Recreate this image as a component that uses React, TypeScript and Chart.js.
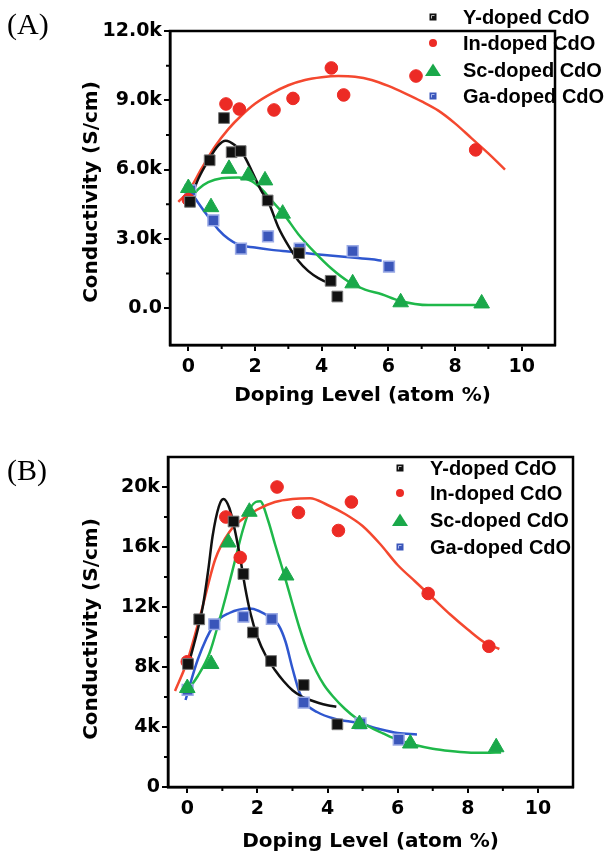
import React, { useEffect, useRef } from 'react';
import { Chart, registerables } from 'chart.js';

Chart.register(...registerables);

const SERIES_NAMES = ['Y-doped CdO', 'In-doped CdO', 'Sc-doped CdO', 'Ga-doped CdO'];
const AXIS_X_TITLE = 'Doping Level (atom %)';
const AXIS_Y_TITLE = 'Conductivity (S/cm)';

// ---------- Panel A data ----------
const A_Y_PTS: [number, number][] = [[0.05, 4600], [0.64, 6400], [1.07, 8230], [1.3, 6750], [1.57, 6800], [2.38, 4660], [3.32, 2380], [4.27, 1180], [4.47, 500]];
const A_Y_FIT: [number, number][] = [[0, 4500], [0.3, 5600], [0.6, 6400], [0.9, 7050], [1.12, 7250], [1.4, 7050], [1.65, 6650], [1.9, 5950], [2.2, 5050], [2.4, 4600], [2.7, 3500], [3.0, 2700], [3.3, 2050], [3.6, 1600], [3.9, 1300], [4.2, 1100], [4.42, 1050]];
const A_IN_PTS: [number, number][] = [[0, 4700], [1.13, 8840], [1.53, 8620], [2.57, 8580], [3.14, 9080], [4.29, 10400], [4.66, 9230], [6.83, 10050], [8.62, 6850]];
const A_IN_FIT: [number, number][] = [[-0.3, 4600], [0, 5050], [0.4, 6050], [0.8, 7000], [1.2, 7750], [1.6, 8350], [2, 8850], [2.5, 9300], [3, 9650], [3.5, 9880], [4, 10000], [4.5, 10050], [5, 10020], [5.5, 9880], [6, 9620], [6.5, 9300], [7, 8950], [7.5, 8550], [8, 8000], [8.5, 7350], [9, 6700], [9.5, 6000]];
const A_SC_PTS: [number, number][] = [[0, 5200], [0.68, 4370], [1.22, 6030], [1.8, 5740], [2.3, 5530], [2.83, 4090], [4.93, 1070], [6.37, 250], [8.8, 200]];
const A_SC_FIT: [number, number][] = [[0, 4600], [0.3, 5150], [0.6, 5450], [1, 5620], [1.5, 5650], [1.9, 5500], [2.2, 5150], [2.5, 4650], [2.85, 4090], [3.3, 3200], [3.8, 2400], [4.3, 1700], [4.8, 1150], [5.3, 800], [5.8, 600], [6.3, 330], [6.8, 180], [7.2, 130], [8, 130], [8.8, 130]];
const A_GA_PTS: [number, number][] = [[0.06, 5100], [0.75, 3800], [1.58, 2570], [2.39, 3110], [3.34, 2570], [4.93, 2470], [6.02, 1790]];
const A_GA_FIT: [number, number][] = [[0, 5200], [0.3, 4550], [0.6, 3950], [0.9, 3400], [1.2, 3000], [1.5, 2750], [2, 2620], [2.5, 2520], [3, 2450], [3.5, 2380], [4, 2310], [4.5, 2240], [5, 2180], [5.5, 2110], [5.8, 2050]];

// ---------- Panel B data ----------
const B_Y_PTS: [number, number][] = [[0.02, 8200], [0.34, 11180], [1.32, 17700], [1.6, 14200], [1.87, 10300], [2.39, 8400], [3.32, 6800], [4.28, 4180]];
const B_Y_FIT: [number, number][] = [[0, 7900], [0.2, 9600], [0.44, 12000], [0.6, 14500], [0.72, 16700], [0.9, 18700], [1.03, 19200], [1.2, 18600], [1.35, 17200], [1.5, 15400], [1.65, 13300], [1.8, 11600], [2.0, 10000], [2.25, 8700], [2.5, 7800], [2.75, 7050], [3.0, 6450], [3.25, 6050], [3.5, 5800], [3.75, 5600], [4.0, 5450], [4.25, 5350]];
const B_IN_PTS: [number, number][] = [[0, 8350], [1.1, 18000], [1.51, 15300], [2.56, 20000], [3.17, 18300], [4.31, 17100], [4.68, 19000], [6.87, 12900], [8.6, 9380]];
const B_IN_FIT: [number, number][] = [[-0.35, 6400], [0, 8400], [0.4, 11700], [0.8, 15200], [1.2, 17000], [1.6, 17900], [2, 18500], [2.5, 19000], [3, 19200], [3.5, 19250], [4, 18800], [4.5, 18200], [5, 17400], [5.5, 16200], [6, 14800], [6.5, 13700], [7, 12600], [7.5, 11500], [8, 10500], [8.5, 9600], [8.9, 9200]];
const B_SC_PTS: [number, number][] = [[0, 6600], [0.68, 8200], [1.17, 16300], [1.77, 18350], [2.82, 14100], [4.91, 4200], [6.36, 2900], [8.81, 2650]];
const B_SC_FIT: [number, number][] = [[0, 6400], [0.3, 7400], [0.63, 8900], [0.9, 11000], [1.1, 12700], [1.35, 15000], [1.58, 17100], [1.8, 18600], [1.95, 19000], [2.08, 19050], [2.3, 17800], [2.5, 16200], [2.72, 14500], [3, 12200], [3.2, 10600], [3.45, 8900], [3.68, 7700], [3.9, 6800], [4.15, 6050], [4.5, 5200], [4.82, 4580], [5.2, 4000], [5.58, 3580], [6, 3150], [6.5, 2800], [7, 2550], [7.5, 2400], [8, 2300], [8.5, 2280], [8.95, 2300]];
const B_GA_PTS: [number, number][] = [[0.01, 6470], [0.77, 10850], [1.6, 11350], [2.41, 11200], [3.32, 5620], [4.94, 4240], [6.03, 3160]];
const B_GA_FIT: [number, number][] = [[-0.05, 5800], [0.3, 8500], [0.77, 10850], [1.2, 11600], [1.77, 11900], [2.4, 11250], [2.6, 10800], [2.8, 9700], [3.0, 7900], [3.2, 6300], [3.35, 5620], [3.7, 5000], [4.2, 4550], [4.9, 4250], [5.5, 3850], [6, 3600], [6.55, 3500]];

// ---------- Ticks ----------
const X_TICKS = [0, 2, 4, 6, 8, 10];
const X_LABELS = ['0', '2', '4', '6', '8', '10'];
const X_MINOR = [1, 3, 5, 7, 9];
const A_Y_TICKS = [0, 3000, 6000, 9000, 12000];
const A_Y_LABELS = ['0.0', '3.0k', '6.0k', '9.0k', '12.0k'];
const A_Y_MINOR = [1500, 4500, 7500, 10500];
const B_Y_TICKS = [0, 4000, 8000, 12000, 16000, 20000];
const B_Y_LABELS = ['0', '4k', '8k', '12k', '16k', '20k'];
const B_Y_MINOR = [2000, 6000, 10000, 14000, 18000];

const COLORS = {
  y: '#111111',
  inPt: '#ec2b25',
  inLine: '#f4482f',
  scPt: '#1aa84a',
  scLine: '#1fb84a',
  gaPt: '#3a56ba',
  gaLine: '#2f57cf',
};

const toXY = (a: [number, number][]) => a.map(([x, y]) => ({ x, y }));

type PanelCfg = {
  label: string;
  labelY: number;
  height: number;
  padTop: number;
  padRight: number;
  yAxisW: number;
  xAxisH: number;
  yMin: number;
  yMax: number;
  yTicks: number[];
  yLabels: string[];
  yMinor: number[];
  yTitleX: number;
  yTitleY: number;
  xTitleY: number;
  legendMarkX: number;
  legendTextX: number;
  legendRows: number[];
  pts: [number, number][][];
  fits: [number, number][][];
};

const TICK_FONT = { family: 'DejaVu Sans', weight: 'bold' as const, size: 19 };

function drawMarker(ctx: CanvasRenderingContext2D, kind: number, x: number, y: number) {
  ctx.save();
  if (kind === 0) {
    ctx.fillStyle = COLORS.y;
    ctx.fillRect(x - 3.5, y - 3.5, 7, 7);
    ctx.strokeStyle = '#bbb';
    ctx.lineWidth = 1;
    ctx.beginPath();
    ctx.moveTo(x - 1.5, y + 1.5);
    ctx.lineTo(x - 1.5, y - 1.5);
    ctx.lineTo(x + 1.5, y - 1.5);
    ctx.stroke();
  } else if (kind === 1) {
    ctx.fillStyle = COLORS.inPt;
    ctx.beginPath();
    ctx.arc(x, y, 4, 0, Math.PI * 2);
    ctx.fill();
  } else if (kind === 2) {
    ctx.fillStyle = COLORS.scPt;
    ctx.beginPath();
    ctx.moveTo(x, y - 6.5);
    ctx.lineTo(x + 8, y + 6);
    ctx.lineTo(x - 8, y + 6);
    ctx.closePath();
    ctx.fill();
  } else {
    ctx.fillStyle = COLORS.gaPt;
    ctx.fillRect(x - 3.5, y - 3.5, 7, 7);
    ctx.strokeStyle = '#aab8ee';
    ctx.lineWidth = 1;
    ctx.beginPath();
    ctx.moveTo(x - 1.5, y + 1.5);
    ctx.lineTo(x - 1.5, y - 1.5);
    ctx.lineTo(x + 1.5, y - 1.5);
    ctx.stroke();
  }
  ctx.restore();
}

function makeDecor(cfg: PanelCfg) {
  return {
    id: 'decor',
    afterDraw(chart: any) {
      const { ctx, chartArea: ca } = chart;
      const xs = chart.scales.x;
      const ys = chart.scales.y;
      ctx.save();
      // frame
      ctx.strokeStyle = '#000';
      ctx.lineWidth = 2.5;
      ctx.strokeRect(ca.left, ca.top, ca.right - ca.left, ca.bottom - ca.top);
      // minor ticks
      ctx.lineWidth = 2;
      ctx.beginPath();
      X_MINOR.forEach((v) => {
        const px = xs.getPixelForValue(v);
        ctx.moveTo(px, ca.bottom);
        ctx.lineTo(px, ca.bottom + 4);
      });
      cfg.yMinor.forEach((v) => {
        const py = ys.getPixelForValue(v);
        ctx.moveTo(ca.left, py);
        ctx.lineTo(ca.left - 4, py);
      });
      ctx.stroke();
      // titles
      ctx.fillStyle = '#000';
      ctx.font = 'bold 20px "DejaVu Sans"';
      ctx.textAlign = 'center';
      ctx.textBaseline = 'middle';
      ctx.fillText(AXIS_X_TITLE, (ca.left + ca.right) / 2, cfg.xTitleY);
      ctx.save();
      ctx.translate(cfg.yTitleX, cfg.yTitleY);
      ctx.rotate(-Math.PI / 2);
      ctx.fillText(AXIS_Y_TITLE, 0, 0);
      ctx.restore();
      // panel label
      ctx.font = '30px "Liberation Serif"';
      ctx.textAlign = 'left';
      ctx.fillText(cfg.label, 7, cfg.labelY);
      // legend
      ctx.font = 'bold 20px "Liberation Sans"';
      SERIES_NAMES.forEach((name, i) => {
        const ry = cfg.legendRows[i];
        drawMarker(ctx, i, cfg.legendMarkX, ry);
        ctx.fillStyle = '#000';
        ctx.fillText(name, cfg.legendTextX, ry + 1);
      });
      ctx.restore();
    },
  };
}

function buildConfig(cfg: PanelCfg): any {
  const ptStyles = [
    { pointStyle: 'rect', pointRadius: 7.6, backgroundColor: COLORS.y, borderColor: '#777', borderWidth: 1 },
    { pointStyle: 'circle', pointRadius: 6.3, backgroundColor: COLORS.inPt, borderColor: COLORS.inPt, borderWidth: 1 },
    { pointStyle: 'triangle', pointRadius: 9, backgroundColor: COLORS.scPt, borderColor: COLORS.scPt, borderWidth: 1 },
    { pointStyle: 'rect', pointRadius: 7.6, backgroundColor: COLORS.gaPt, borderColor: '#9aaae6', borderWidth: 1.5 },
  ];
  const lineColors = [COLORS.y, COLORS.inLine, COLORS.scLine, COLORS.gaLine];
  const datasets: any[] = [];
  cfg.pts.forEach((p, i) => {
    datasets.push({
      type: 'scatter',
      label: SERIES_NAMES[i],
      data: toXY(p),
      showLine: false,
      pointHoverRadius: ptStyles[i].pointRadius,
      ...ptStyles[i],
    });
  });
  cfg.fits.forEach((f, i) => {
    datasets.push({
      type: 'line',
      label: SERIES_NAMES[i] + ' fit',
      data: toXY(f),
      borderColor: lineColors[i],
      backgroundColor: lineColors[i],
      borderWidth: 2.5,
      pointRadius: 0,
      fill: false,
      cubicInterpolationMode: 'monotone',
    });
  });
  return {
    type: 'scatter',
    data: { datasets },
    plugins: [makeDecor(cfg)],
    options: {
      animation: false,
      responsive: false,
      maintainAspectRatio: false,
      events: [],
      layout: { padding: { left: 0, right: cfg.padRight, top: cfg.padTop, bottom: 0 } },
      plugins: { legend: { display: false }, tooltip: { enabled: false } },
      scales: {
        x: {
          type: 'linear',
          min: -0.55,
          max: 11,
          afterFit: (s: any) => { s.height = cfg.xAxisH; },
          afterBuildTicks: (s: any) => { s.ticks = X_TICKS.map((v) => ({ value: v })); },
          ticks: {
            autoSkip: false,
            maxRotation: 0,
            color: '#000',
            font: TICK_FONT,
            padding: 5,
            callback: (_v: any, i: number) => X_LABELS[i],
          },
          grid: { drawOnChartArea: false, drawTicks: true, tickLength: 6, color: '#000', lineWidth: 2 },
          border: { display: true, color: '#000', width: 2.5 },
        },
        y: {
          type: 'linear',
          min: cfg.yMin,
          max: cfg.yMax,
          afterFit: (s: any) => { s.width = cfg.yAxisW; },
          afterBuildTicks: (s: any) => { s.ticks = cfg.yTicks.map((v) => ({ value: v })); },
          ticks: {
            autoSkip: false,
            color: '#000',
            font: TICK_FONT,
            padding: 2,
            callback: (_v: any, i: number) => cfg.yLabels[i],
          },
          grid: { drawOnChartArea: false, drawTicks: true, tickLength: 6, color: '#000', lineWidth: 2 },
          border: { display: true, color: '#000', width: 2.5 },
        },
      },
    },
  };
}

const PANEL_A: PanelCfg = {
  label: '(A)', labelY: 26, height: 427, padTop: 31, padRight: 53, yAxisW: 170, xAxisH: 82,
  yMin: -1600, yMax: 12000, yTicks: A_Y_TICKS, yLabels: A_Y_LABELS, yMinor: A_Y_MINOR,
  yTitleX: 92, yTitleY: 192, xTitleY: 396,
  legendMarkX: 433, legendTextX: 463, legendRows: [17, 43, 70, 96],
  pts: [A_Y_PTS, A_IN_PTS, A_SC_PTS, A_GA_PTS],
  fits: [A_Y_FIT, A_IN_FIT, A_SC_FIT, A_GA_FIT],
};

const PANEL_B: PanelCfg = {
  label: '(B)', labelY: 45, height: 428, padTop: 30, padRight: 35, yAxisW: 168, xAxisH: 68,
  yMin: 0, yMax: 22000, yTicks: B_Y_TICKS, yLabels: B_Y_LABELS, yMinor: B_Y_MINOR,
  yTitleX: 92, yTitleY: 202, xTitleY: 415,
  legendMarkX: 400, legendTextX: 430, legendRows: [41, 66, 93, 120],
  pts: [B_Y_PTS, B_IN_PTS, B_SC_PTS, B_GA_PTS],
  fits: [B_Y_FIT, B_IN_FIT, B_SC_FIT, B_GA_FIT],
};

function Panel({ cfg }: { cfg: PanelCfg }) {
  const ref = useRef<HTMLCanvasElement | null>(null);
  useEffect(() => {
    if (!ref.current) return;
    const chart = new Chart(ref.current, buildConfig(cfg));
    return () => chart.destroy();
  }, [cfg]);
  return <canvas ref={ref} width={608} height={cfg.height} style={{ display: 'block', width: 608, height: cfg.height }} />;
}

export default function App() {
  useEffect(() => {
    document.body.style.margin = '0';
    document.body.style.background = '#fff';
  }, []);
  return (
    <div style={{ width: 608, height: 855, background: '#fff', overflow: 'hidden' }}>
      <Panel cfg={PANEL_A} />
      <Panel cfg={PANEL_B} />
    </div>
  );
}
